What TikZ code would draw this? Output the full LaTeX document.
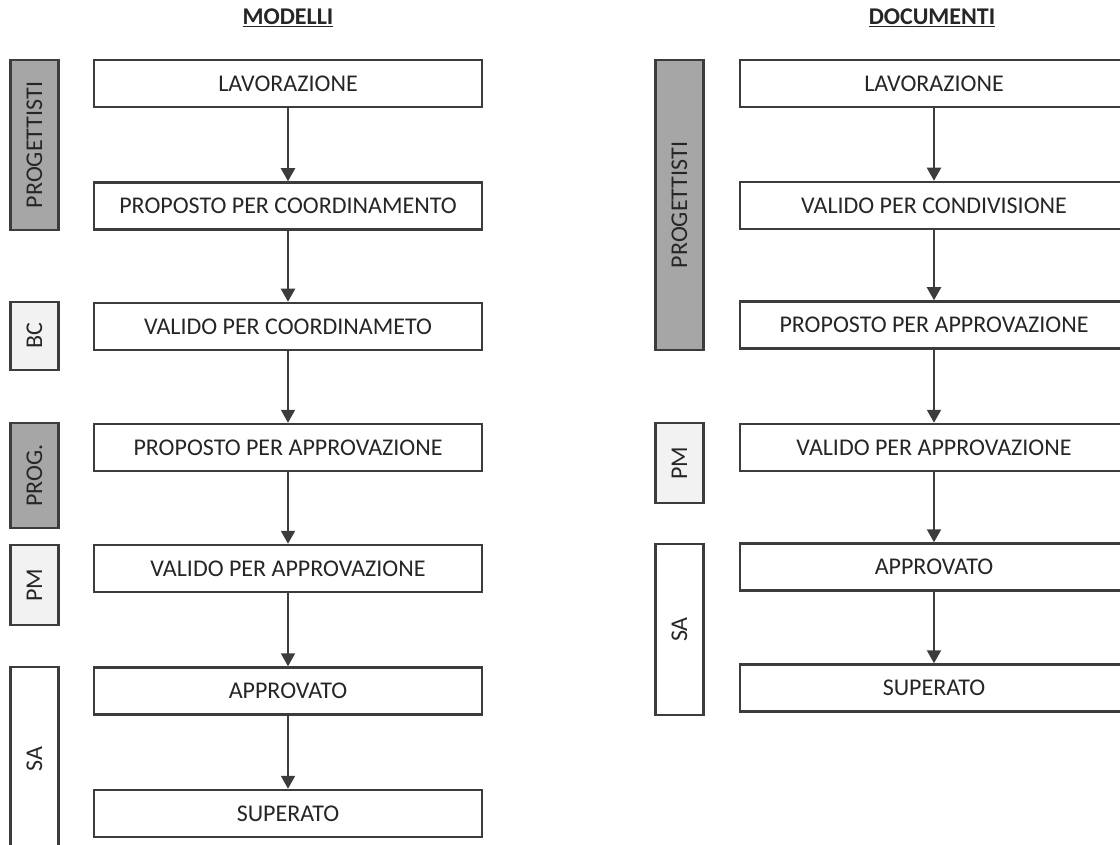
\documentclass[tikz,border=0pt]{standalone}
\usepackage{fontspec}
\setmainfont{Carlito}
\usetikzlibrary{arrows.meta}
\definecolor{ln}{HTML}{3C3C3C}
\definecolor{darkbar}{HTML}{A6A6A6}
\definecolor{lightbar}{HTML}{F2F2F2}
\tikzset{
  stbox/.style={draw=ln, line width=2.5pt, fill=white, minimum width=388pt, minimum height=47pt, inner sep=0pt, font=\fontsize{24}{28}\selectfont, text=black!85},
  bar/.style={draw=ln, line width=2.5pt, minimum width=48pt, inner sep=0pt, font=\fontsize{24}{28}\selectfont, text=black!85},
  title/.style={font=\fontsize{24}{28}\selectfont\bfseries, text=black!85, anchor=base, inner sep=0pt},
  flow/.style={draw=ln, line width=2.2pt, -{Triangle[width=14pt,length=13pt]}}
}
\begin{document}
\begin{tikzpicture}[x=1pt,y=-1pt]
\useasboundingbox (0,0) rectangle (1120,845);
\clip (0,0) rectangle (1120,845);
% titles
\node[title] (t1) at (288,25) {\underline{MODELLI}};
\node[title] (t2) at (932,25) {\underline{DOCUMENTI}};
% left column boxes
\node[stbox] (m1) at (288,83.5) {LAVORAZIONE};
\node[stbox] (m2) at (288,206) {PROPOSTO PER COORDINAMENTO};
\node[stbox] (m3) at (288,326.5) {VALIDO PER COORDINAMETO};
\node[stbox] (m4) at (288,447.5) {PROPOSTO PER APPROVAZIONE};
\node[stbox] (m5) at (288,568.5) {VALIDO PER APPROVAZIONE};
\node[stbox] (m6) at (288,691) {APPROVATO};
\node[stbox] (m7) at (288,813.5) {SUPERATO};
\foreach \a/\b in {m1/m2,m2/m3,m3/m4,m4/m5,m5/m6,m6/m7}
  \draw[flow] (\a.south) -- (\b.north);
% left bars
\node[bar, fill=darkbar, minimum height=170pt] (lb1) at (34.5,145) {\rotatebox{90}{PROGETTISTI}};
\node[bar, fill=lightbar, minimum height=68pt] (lb2) at (34.5,336) {\rotatebox{90}{BC}};
\node[bar, fill=darkbar, minimum height=105pt] (lb3) at (34.5,475.5) {\rotatebox{90}{PROG.}};
\node[bar, fill=lightbar, minimum height=80pt] (lb4) at (34.5,585) {\rotatebox{90}{PM}};
\node[bar, fill=white, minimum height=184pt] (lb5) at (34.5,759) {\rotatebox{90}{SA}};
% right column boxes
\node[stbox] (d1) at (934,83.5) {LAVORAZIONE};
\node[stbox] (d2) at (934,205.5) {VALIDO PER CONDIVISIONE};
\node[stbox] (d3) at (934,325) {PROPOSTO PER APPROVAZIONE};
\node[stbox] (d4) at (934,447.5) {VALIDO PER APPROVAZIONE};
\node[stbox] (d5) at (934,567) {APPROVATO};
\node[stbox] (d6) at (934,688) {SUPERATO};
\foreach \a/\b in {d1/d2,d2/d3,d3/d4,d4/d5,d5/d6}
  \draw[flow] (\a.south) -- (\b.north);
% right bars
\node[bar, fill=darkbar, minimum height=290pt] (rb1) at (679.5,205) {\rotatebox{90}{PROGETTISTI}};
\node[bar, fill=lightbar, minimum height=80pt] (rb2) at (679.5,463) {\rotatebox{90}{PM}};
\node[bar, fill=white, minimum height=171pt] (rb3) at (679.5,629.5) {\rotatebox{90}{SA}};
\end{tikzpicture}
\end{document}
